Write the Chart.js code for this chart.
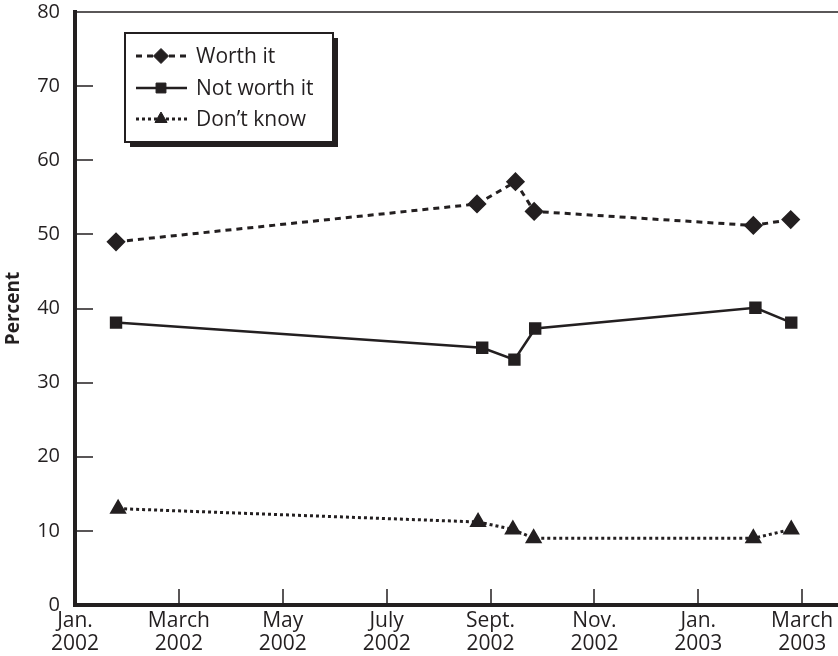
<!DOCTYPE html>
<html>
<head>
<meta charset="utf-8">
<script src="https://cdn.jsdelivr.net/npm/chart.js@4.4.1/dist/chart.umd.min.js"></script>
<style>
  html, body { margin: 0; padding: 0; background: #fff; }
</style>
</head>
<body>
<canvas id="chart" width="838" height="656"></canvas>
<script>
// x values are months since Jan. 2002
const worthMonths = [0.79, 7.74, 8.48, 8.84, 13.06, 13.78];
const worthValues = [49, 54.1, 57.1, 53.1, 51.2, 52];
const notWorthMonths = [0.79, 7.84, 8.46, 8.86, 13.1, 13.79];
const notWorthValues = [38.1, 34.7, 33.1, 37.3, 40.1, 38.1];
const dontKnowMonths = [0.83, 7.76, 8.43, 8.83, 13.06, 13.79];
const dontKnowValues = [13, 11.2, 10.2, 9, 9, 10.2];

const seriesNames = ['Worth it', 'Not worth it', 'Don\u2019t know'];
const xTickMonths = [0, 2, 4, 6, 8, 10, 12, 14];
const xTickLabels = [
    ['Jan.', '2002'], ['March', '2002'], ['May', '2002'], ['July', '2002'],
    ['Sept.', '2002'], ['Nov.', '2002'], ['Jan.', '2003'], ['March', '2003']
];
const yTickValues = [0, 10, 20, 30, 40, 50, 60, 70, 80];

const INK = '#231f20';
const FONT = '"Open Sans", "Noto Sans", sans-serif';

function toPoints(xs, ys) {
    return xs.map((x, i) => ({ x: x, y: ys[i] }));
}

// inward tick marks and the thin top frame line
const frameTicks = {
    id: 'frameTicks',
    beforeDatasetsDraw(chart) {
        const { ctx, chartArea, scales } = chart;
        ctx.save();
        ctx.strokeStyle = INK;
        ctx.lineWidth = 1.5;
        ctx.beginPath();
        yTickValues.slice(1, -1).forEach((v) => {
            const y = Math.round(scales.y.getPixelForValue(v));
            ctx.moveTo(chartArea.left, y);
            ctx.lineTo(chartArea.left + 18, y);
        });
        xTickMonths.slice(1).forEach((m) => {
            const x = Math.round(scales.x.getPixelForValue(m));
            ctx.moveTo(x, chartArea.bottom);
            ctx.lineTo(x, chartArea.bottom - 16);
        });
        ctx.stroke();
        ctx.beginPath();
        ctx.moveTo(chartArea.left, chartArea.top);
        ctx.lineTo(chart.width, chartArea.top);
        ctx.stroke();
        ctx.restore();
    }
};

// boxed legend with a drop shadow
const boxLegend = {
    id: 'boxLegend',
    afterDraw(chart) {
        const ctx = chart.ctx;
        const bx = 125, by = 33, bw = 208, bh = 109;
        ctx.save();
        ctx.fillStyle = INK;
        ctx.fillRect(bx + 5, by + 5, bw, bh);
        ctx.fillStyle = '#fff';
        ctx.fillRect(bx, by, bw, bh);
        ctx.strokeStyle = INK;
        ctx.lineWidth = 2;
        ctx.strokeRect(bx, by, bw, bh);

        const rows = [56, 88, 119];
        chart.data.datasets.forEach((ds, i) => {
            const y = rows[i];
            ctx.strokeStyle = INK;
            ctx.lineWidth = ds.borderWidth;
            ctx.setLineDash(ds.borderDash || []);
            ctx.beginPath();
            ctx.moveTo(136, y);
            ctx.lineTo(187, y);
            ctx.stroke();
            ctx.setLineDash([]);
            ctx.fillStyle = INK;
            ctx.lineWidth = 1;
            Chart.helpers.drawPoint(ctx, {
                pointStyle: ds.pointStyle, radius: ds.pointRadius, rotation: 0, borderWidth: 1
            }, 161, y);
            ctx.fillStyle = INK;
            ctx.font = '500 21px ' + FONT;
            ctx.textBaseline = 'middle';
            ctx.textAlign = 'left';
            ctx.fillText(ds.label, 196, y + 1);
        });
        ctx.restore();
    }
};

new Chart(document.getElementById('chart'), {
    type: 'line',
    data: {
        datasets: [
            {
                label: seriesNames[0],
                data: toPoints(worthMonths, worthValues),
                borderColor: INK,
                backgroundColor: INK,
                borderWidth: 3,
                borderDash: [6, 5],
                pointStyle: 'rectRot',
                pointRadius: 7.5,
                fill: false
            },
            {
                label: seriesNames[1],
                data: toPoints(notWorthMonths, notWorthValues),
                borderColor: INK,
                backgroundColor: INK,
                borderWidth: 2.5,
                pointStyle: 'rect',
                pointRadius: 7,
                fill: false
            },
            {
                label: seriesNames[2],
                data: toPoints(dontKnowMonths, dontKnowValues),
                borderColor: INK,
                backgroundColor: INK,
                borderWidth: 3,
                borderDash: [3, 3],
                pointStyle: 'triangle',
                pointRadius: 7,
                fill: false
            }
        ]
    },
    options: {
        responsive: false,
        animation: false,
        devicePixelRatio: 1,
        layout: { autoPadding: false, padding: { top: 12, right: 0, left: 0, bottom: 0 } },
        plugins: {
            legend: { display: false },
            tooltip: { enabled: false }
        },
        elements: {
            line: { tension: 0 },
            point: { borderWidth: 1, hoverRadius: 7 }
        },
        scales: {
            x: {
                type: 'linear',
                min: 0,
                max: 14.69,
                afterBuildTicks(scale) {
                    scale.ticks = xTickMonths.map((v) => ({ value: v }));
                },
                afterFit(scale) {
                    scale.height = 51;
                    scale.paddingLeft = 0;
                    scale.paddingRight = 0;
                },
                grid: { display: false },
                border: { display: true, width: 4, color: INK },
                ticks: {
                    autoSkip: false,
                    maxRotation: 0,
                    padding: -4,
                    color: INK,
                    font: { family: FONT, size: 21, weight: 500, lineHeight: 1.1 },
                    callback: (v) => xTickLabels[xTickMonths.indexOf(v)]
                }
            },
            y: {
                min: 0,
                max: 80,
                afterBuildTicks(scale) {
                    scale.ticks = yTickValues.map((v) => ({ value: v }));
                },
                afterFit(scale) {
                    scale.width = 75;
                    scale.paddingTop = 0;
                    scale.paddingBottom = 0;
                },
                grid: { display: false },
                border: { display: true, width: 4, color: INK },
                title: {
                    display: true,
                    text: 'Percent',
                    color: INK,
                    padding: { top: 2, bottom: 0 },
                    font: { family: FONT, size: 19, weight: 'bold' }
                },
                ticks: {
                    padding: 7,
                    color: INK,
                    font: { family: FONT, size: 20, weight: 500 }
                }
            }
        }
    },
    plugins: [frameTicks, boxLegend]
});
</script>
</body>
</html>
